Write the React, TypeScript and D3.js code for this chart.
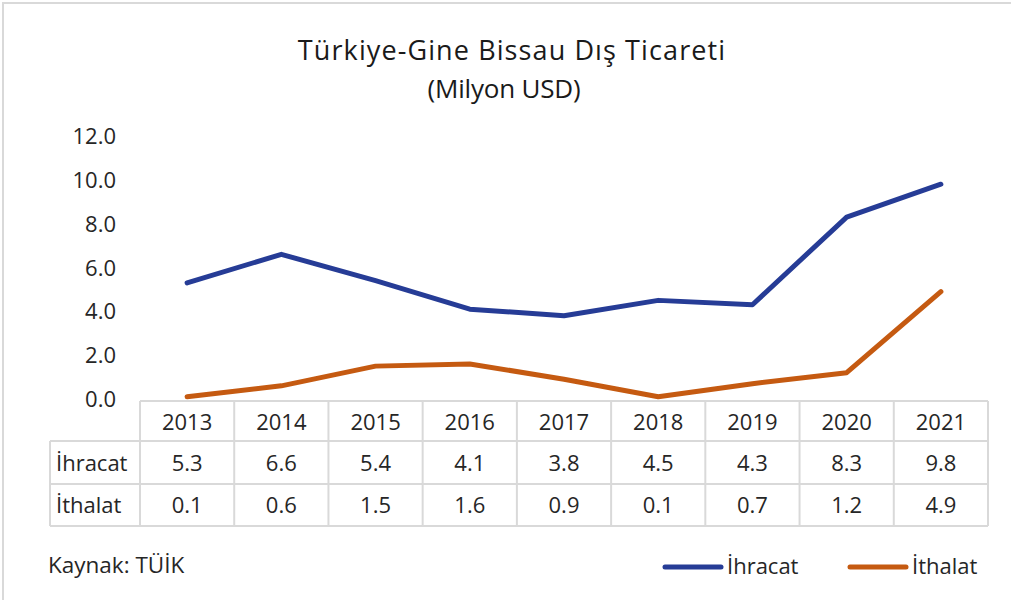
import React from "react";
import * as d3 from "d3";

const years = ["2013", "2014", "2015", "2016", "2017", "2018", "2019", "2020", "2021"];
const ihracat = [5.3, 6.6, 5.4, 4.1, 3.8, 4.5, 4.3, 8.3, 9.8];
const ithalat = [0.1, 0.6, 1.5, 1.6, 0.9, 0.1, 0.7, 1.2, 4.9];
const yTicks = [0, 2, 4, 6, 8, 10, 12];
const seriesNames = ["İhracat", "İthalat"];
const colors = ["#263C96", "#C55A11"];

const W = 1011, H = 600;
const FONT = "'Open Sans', 'Noto Sans', sans-serif";

export default function App() {
  const x = d3.scaleBand<string>().domain(years).range([140, 988]);
  const y = d3.scaleLinear().domain([0, 12]).range([399, 136]);
  const line = d3.line<number>()
    .x((_, i) => (x(years[i]) as number) + x.bandwidth() / 2)
    .y((d) => y(d));
  const series = [ihracat, ithalat];
  const rowTop = [401, 441, 484, 526];
  const labelLeft = 50;
  const grid = "#D9D9D9";
  const txt = "#262626";
  return (
    <div style={{ position: "absolute", left: 0, top: 0 }}>
      <svg width={W} height={H} style={{ display: "block", fontFamily: FONT }}>
        <rect x={0} y={0} width={W} height={H} fill="#fff" />
        <rect x={3} y={3} width={W + 10} height={H + 10} fill="none" stroke="#D9D9D9" strokeWidth={2} />
        <text x={512} y={60} textAnchor="middle" fontSize={27} letterSpacing={1.1} fill="#1a1a1a">Türkiye-Gine Bissau Dış Ticareti</text>
        <text x={504} y={98} textAnchor="middle" fontSize={26} letterSpacing={-0.2} fill="#1a1a1a">(Milyon USD)</text>
        {yTicks.map((t) => (
          <text key={t} x={116} y={y(t) + 8} textAnchor="end" fontSize={22} fill={txt}>{t.toFixed(1)}</text>
        ))}
        {series.map((s, i) => (
          <path key={i} d={line(s) || ""} fill="none" stroke={colors[i]} strokeWidth={5} strokeLinecap="round" strokeLinejoin="round" />
        ))}
        <g stroke={grid} strokeWidth={2} fill="none">
          <line x1={140} x2={988} y1={rowTop[0]} y2={rowTop[0]} />
          {rowTop.slice(1).map((r) => (
            <line key={r} x1={labelLeft} x2={988} y1={r} y2={r} />
          ))}
          <line x1={labelLeft} x2={labelLeft} y1={rowTop[1]} y2={rowTop[3]} />
          {years.map((yr) => (
            <line key={yr} x1={x(yr) as number} x2={x(yr) as number} y1={rowTop[0]} y2={rowTop[3]} />
          ))}
          <line x1={988} x2={988} y1={rowTop[0]} y2={rowTop[3]} />
        </g>
        {years.map((yr) => (
          <text key={yr} x={(x(yr) as number) + x.bandwidth() / 2} y={430} textAnchor="middle" fontSize={22} fill={txt}>{yr}</text>
        ))}
        {series.map((s, i) => (
          <g key={i}>
            <text x={56} y={i === 0 ? 471 : 513} fontSize={22} fill={txt}>{seriesNames[i]}</text>
            {s.map((v, j) => (
              <text key={j} x={(x(years[j]) as number) + x.bandwidth() / 2} y={i === 0 ? 471 : 513} textAnchor="middle" fontSize={22} fill={txt}>{v.toFixed(1)}</text>
            ))}
          </g>
        ))}
        <text x={48} y={573} fontSize={22.5} fill={txt}>Kaynak: TÜİK</text>
        {seriesNames.map((n, i) => {
          const lx = i === 0 ? 665 : 850;
          return (
            <g key={n}>
              <line x1={lx} x2={lx + 56} y1={567} y2={567} stroke={colors[i]} strokeWidth={5} strokeLinecap="round" />
              <text x={lx + 62} y={574} fontSize={22} fill={txt}>{n}</text>
            </g>
          );
        })}
      </svg>
    </div>
  );
}
